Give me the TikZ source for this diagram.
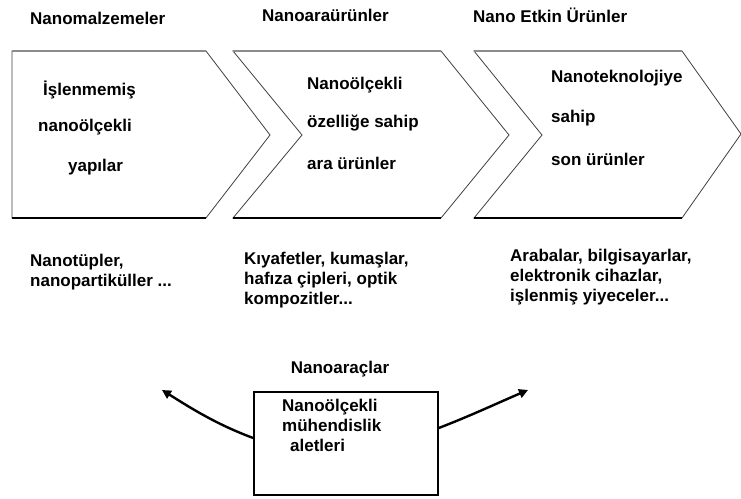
\documentclass[tikz,border=0pt]{standalone}
\usepackage{fontspec}
\setmainfont{Liberation Sans}
\usetikzlibrary{arrows.meta}
\begin{document}
\begin{tikzpicture}[x=1pt,y=-1pt,
  lbl/.style={inner sep=0pt,anchor=west,font=\fontsize{17}{20}\selectfont\bfseries},
  mlbl/.style={lbl,align=left},
  chev/.style={draw=black!75,line width=0.8pt,fill=white},
  topedge/.style={draw=black!45,line width=1.6pt},
  botedge/.style={draw=black,line width=2pt},
  arr/.style={draw=black,line width=2.4pt,-{Triangle[length=9pt,width=9pt]}},
  toolbox/.style={draw=black,line width=1.5pt,minimum width=184pt,minimum height=103pt,inner sep=0pt}]
\useasboundingbox (0,0) rectangle (741,498);
% chevrons
\draw[chev] (12,51) -- (206,51) -- (270,135) -- (206,218) -- (12,218) -- cycle;
\draw[topedge] (12,51) -- (206,51);
\draw[botedge] (12,218) -- (206,218);
\draw[chev] (233,51) -- (441,51) -- (509,135) -- (441,218) -- (233,218) -- (302,135) -- cycle;
\draw[topedge] (233,51) -- (441,51);
\draw[botedge] (233,218) -- (441,218);
\draw[chev] (474,51) -- (682,51) -- (741,134) -- (682,218) -- (474,218) -- (542,135) -- cycle;
\draw[topedge] (474,51) -- (682,51);
\draw[botedge] (474,218) -- (682,218);
% titles
\node[lbl] (t1) at (30,18) {Nanomalzemeler};
\node[lbl] (t2) at (262,15) {Nanoaraürünler};
\node[lbl] (t3) at (473,15) {Nano Etkin Ürünler};
% chevron texts
\node[lbl] (a1) at (43,90) {İşlenmemiş};
\node[lbl] (a2) at (38,127) {nanoölçekli};
\node[lbl] (a3) at (68,167) {yapılar};
\node[lbl] (b1) at (307,85) {Nanoölçekli};
\node[lbl] (b2) at (307,123) {özelliğe sahip};
\node[lbl] (b3) at (307,163) {ara ürünler};
\node[lbl] (c1) at (551,78) {Nanoteknolojiye};
\node[lbl] (c2) at (551,118) {sahip};
\node[lbl] (c3) at (551,159) {son ürünler};
% examples
\node[mlbl] (e1) at (30,272) {Nanotüpler,\\nanopartiküller ...};
\node[mlbl] (e2) at (244,280) {Kıyafetler, kumaşlar,\\hafıza çipleri, optik\\kompozitler...};
\node[mlbl] (e3) at (510,277) {Arabalar, bilgisayarlar,\\elektronik cihazlar,\\işlenmiş yiyeceler...};
% tools
\node[lbl,anchor=center] (tt) at (340,369) {Nanoaraçlar};
\node[toolbox] (box) at (346,443.5) {};
\node[mlbl,anchor=north west] (bt) at (282,399) {Nanoölçekli\\mühendislik\\\hspace{8pt}aletleri};
\coordinate (lt) at (162,390);
\coordinate (rt) at (528,390);
\draw[arr] (box.west|-0,438) .. controls (215,424) and (186,405) .. (lt);
\draw[arr] (box.east|-0,428) .. controls (470,416) and (500,402) .. (rt);
\end{tikzpicture}
\end{document}
